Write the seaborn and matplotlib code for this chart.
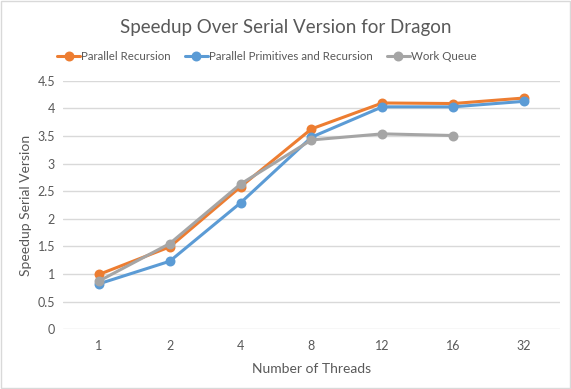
import numpy as np
import pandas as pd
import matplotlib
matplotlib.use("Agg")
import matplotlib.pyplot as plt
import seaborn as sns

threads = ["1", "2", "4", "8", "12", "16", "32"]
parallel_recursion = [0.99, 1.49, 2.58, 3.63, 4.10, 4.09, 4.19]
parallel_primitives = [0.82, 1.23, 2.29, 3.48, 4.03, 4.03, 4.13]
work_queue = [0.87, 1.55, 2.63, 3.43, 3.54, 3.51, np.nan]

series_names = ["Parallel Recursion", "Parallel Primitives and Recursion", "Work Queue"]
colors = ["#ED7D31", "#5B9BD5", "#A5A5A5"]

# long format for seaborn
rows = []
for name, vals in zip(series_names, [parallel_recursion, parallel_primitives, work_queue]):
    for t, v in zip(threads, vals):
        if not np.isnan(v):
            rows.append({"Threads": t, "Speedup": v, "Series": name})
df = pd.DataFrame(rows)

sns.set_theme(style="white")
plt.rcParams["font.family"] = ["Lato", "DejaVu Sans"]
text_color = "#595959"

fig = plt.figure(figsize=(5.71, 3.89), dpi=100)
ax = fig.add_axes([0.111, 0.154, 0.869, 0.638])

sns.pointplot(data=df, x="Threads", y="Speedup", hue="Series", order=threads,
              hue_order=series_names, palette=colors, markers="o",
              markersize=5.5, linewidth=2.2, ax=ax, errorbar=None)

ax.set_ylim(0, 4.5)
ax.set_xlim(-0.5, len(threads) - 0.5)
ax.set_yticks(np.arange(0, 4.51, 0.5))
ax.set_yticklabels(["0", "0.5", "1", "1.5", "2", "2.5", "3", "3.5", "4", "4.5"])
ax.yaxis.grid(True, color="#D9D9D9", linewidth=1)
ax.set_axisbelow(True)
for s in ax.spines.values():
    s.set_visible(False)
ax.tick_params(axis="both", length=0, labelsize=9, colors=text_color, pad=8)
ax.tick_params(axis="y", pad=6)

ax.set_xlabel("Number of Threads", fontsize=10, color=text_color, labelpad=8)
ax.set_ylabel("Speedup Serial Version", fontsize=10, color=text_color, labelpad=4)

fig.suptitle("Speedup Over Serial Version for Dragon", fontsize=13.5, color=text_color, y=0.95)

handles, labels = ax.get_legend_handles_labels()
ax.legend(handles, labels, loc="lower center", bbox_to_anchor=(0.41, 1.035), ncol=3,
          frameon=False, fontsize=8.3, labelcolor=text_color, handlelength=2.0,
          handletextpad=0.1, columnspacing=1.2)

# light outer border like the original chart
fig.patches.append(plt.Rectangle((0.002, 0.002), 0.996, 0.996, transform=fig.transFigure,
                                 fill=False, edgecolor="#D9D9D9", linewidth=1))

fig.savefig("out.png", dpi=100)
